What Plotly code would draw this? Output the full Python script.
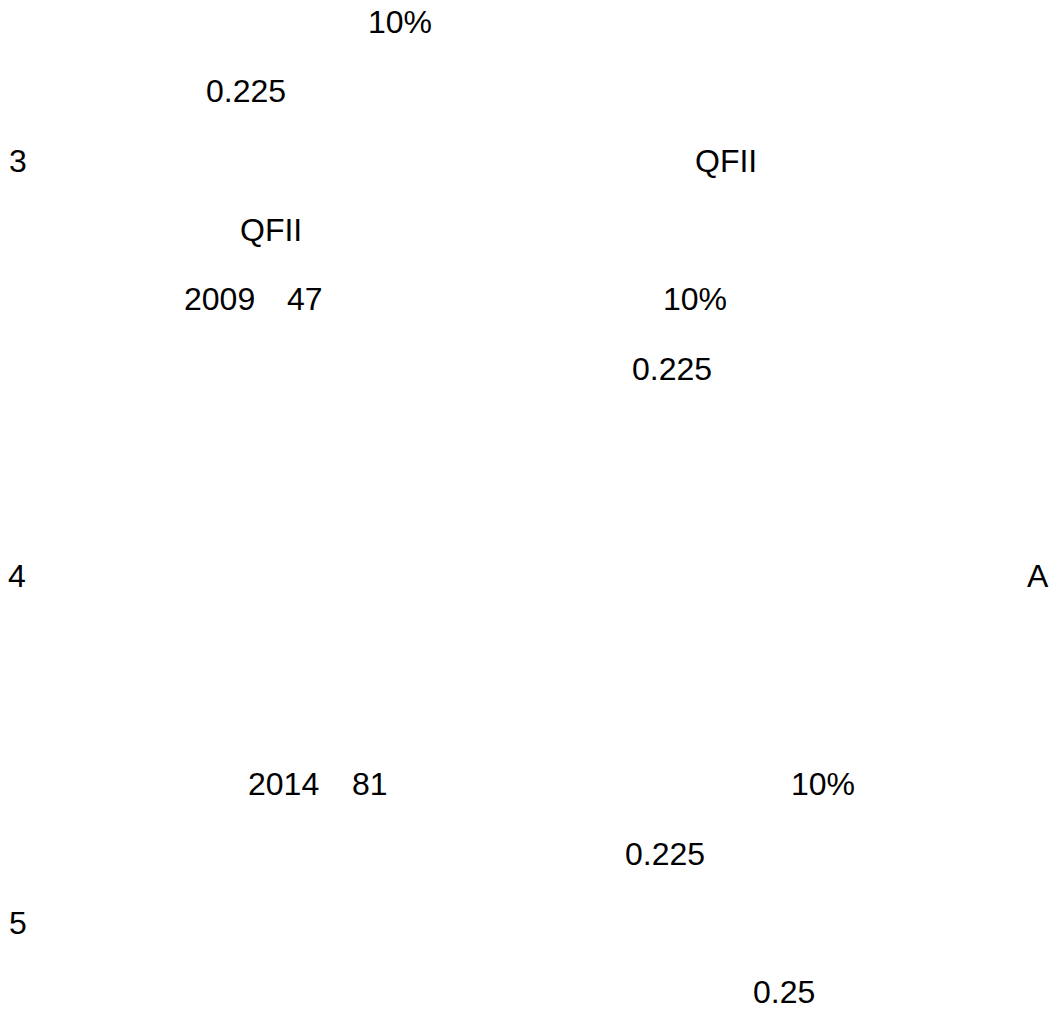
import plotly.graph_objects as go

# Text fragments of the page, the line each sits on, and where each starts along the line
labels = ["10%", "0.225", "3", "QFII", "QFII", "2009", "47", "10%", "0.225",
          "4", "A", "2014", "81", "10%", "0.225", "5", "0.25"]
line_no = [1, 2, 3, 3, 4, 5, 5, 5, 6, 9, 9, 12, 12, 12, 13, 14, 15]
x_start = [367.5, 205.5, 8.5, 694.5, 239.5, 183.5, 287, 662.5, 631.5,
           8, 1027, 247.5, 351.5, 790.5, 624.5, 8.5, 752.5]

W, H = 1060, 1014
LINE_PX = 69.3
FIRST_PX = 22.5
y_top = 1 - FIRST_PX / LINE_PX
y_bottom = 1 + (H - FIRST_PX) / LINE_PX

fig = go.Figure()
fig.add_trace(go.Scatter(x=[0, W], y=[y_top, y_bottom], mode="markers",
                         marker=dict(opacity=0), hoverinfo="skip", showlegend=False))

for t, ln, xs in zip(labels, line_no, x_start):
    fig.add_annotation(x=xs, y=ln, xref="x", yref="y", text=t, showarrow=False,
                       xanchor="left", yanchor="middle", borderpad=0, borderwidth=0,
                       xshift=-8, yshift=8.5,
                       font=dict(family="Liberation Sans, Arial, sans-serif",
                                 size=32, color="#000000"))

fig.update_xaxes(range=[0, W], visible=False, fixedrange=True)
fig.update_yaxes(range=[y_bottom, y_top], visible=False, fixedrange=True)
fig.update_layout(width=W, height=H, margin=dict(l=0, r=0, t=0, b=0),
                  paper_bgcolor="white", plot_bgcolor="white", showlegend=False)

fig.write_html("out.html", config={"displayModeBar": False})
